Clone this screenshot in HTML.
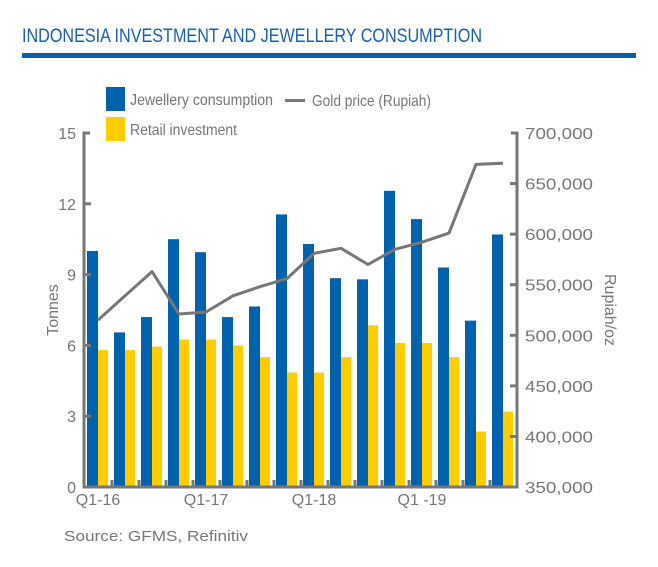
<!DOCTYPE html>
<html><head><meta charset="utf-8">
<style>
body{margin:0;background:#fff;}
svg text{font-family:"Liberation Sans",sans-serif;fill:#77767a;}
</style></head>
<body>
<svg id="c" width="658" height="562" xmlns="http://www.w3.org/2000/svg">
<text x="22" y="42" font-size="19" style="fill:#1a5fad" textLength="460" lengthAdjust="spacingAndGlyphs">INDONESIA INVESTMENT AND JEWELLERY CONSUMPTION</text>
<rect x="22" y="53" width="614" height="5" fill="#0b5fab"/>
<g>
<rect x="106" y="87" width="19" height="24" fill="#0061ad"/>
<text x="130" y="105" font-size="16" textLength="143" lengthAdjust="spacingAndGlyphs">Jewellery consumption</text>
<rect x="106" y="117" width="19" height="24" fill="#ffcc00"/>
<text x="130" y="135" font-size="16" textLength="107" lengthAdjust="spacingAndGlyphs">Retail investment</text>
<rect x="285" y="99" width="20" height="3" fill="#77767a"/>
<text x="312" y="106" font-size="16" textLength="119" lengthAdjust="spacingAndGlyphs">Gold price (Rupiah)</text>
</g>
<text x="64" y="541" font-size="15" textLength="184" lengthAdjust="spacingAndGlyphs">Source: GFMS, Refinitiv</text>
<g id="plot"></g>
</svg>
<script>
const quarters = ["Q1-16","Q2-16","Q3-16","Q4-16","Q1-17","Q2-17","Q3-17","Q4-17","Q1-18","Q2-18","Q3-18","Q4-18","Q1-19","Q2-19","Q3-19","Q4-19"];
const jewellery = [10.0,6.55,7.2,10.5,9.95,7.2,7.65,11.55,10.3,8.85,8.8,12.55,11.35,9.3,7.05,10.7];
const retail = [5.8,5.8,5.95,6.25,6.25,6.0,5.5,4.85,4.85,5.5,6.85,6.1,6.1,5.5,2.35,3.2];
const goldPrice = [515000,539000,563000,521000,523000,539000,548000,556000,581000,586000,570000,585000,592000,601000,669000,670000];
const leftTicks = [0,3,6,9,12,15];
const rightTicks = [350000,400000,450000,500000,550000,600000,650000,700000];
const xLabels = [{i:0,t:"Q1-16"},{i:4,t:"Q1-17"},{i:8,t:"Q1-18"},{i:12,t:"Q1 -19"}];

const NS="http://www.w3.org/2000/svg";
const g=document.getElementById('plot');
const X0=87, PITCH=27, BW=11, Y0=487, Y1=133, AXL=84, AXR=517;
const yL=v=>Y0-(v/15)*(Y0-Y1);
const yR=v=>Y0-((v-350000)/350000)*(Y0-Y1);
const gx=i=>X0+i*PITCH;
function mk(tag,attrs){const e=document.createElementNS(NS,tag);for(const k in attrs)e.setAttribute(k,attrs[k]);g.appendChild(e);return e;}

jewellery.forEach((v,i)=>{
  const r=mk('rect',{x:gx(i),y:yL(v),width:BW,height:Y0-yL(v),fill:'#0061ad'});
  
  
});
retail.forEach((v,i)=>{
  const r=mk('rect',{x:gx(i)+BW,y:yL(v),width:BW-1,height:Y0-yL(v),fill:'#ffcc00'});
  
  
});
const ax=mk('path',{d:`M${AXL+6} ${Y1}H${AXL}V${Y0}H${AXR}V${Y1}H${AXR-6}`,stroke:'#77767a','stroke-width':3,fill:'none'});


for(let i=1;i<16;i++){
  const t=mk('line',{x1:gx(i)-2,x2:gx(i)-2,y1:Y0,y2:Y0-7,stroke:'#77767a','stroke-width':3});
  
  
}
leftTicks.forEach(v=>{
  const y=yL(v);
  if(v>0&&v<15){const l=mk('line',{x1:AXL,x2:AXL+7,y1:y,y2:y,stroke:'#77767a','stroke-width':3});
  
  }
  const t=mk('text',{x:76,y:y+6,'font-size':16,'text-anchor':'end'});t.textContent=v;
  
  
});
rightTicks.forEach(v=>{
  const y=yR(v);
  if(v>350000&&v<700000){const l=mk('line',{x1:AXR-7,x2:AXR,y1:y,y2:y,stroke:'#77767a','stroke-width':3});
  
  }
  const t=mk('text',{x:525,y:y+6,'font-size':16,textLength:68,lengthAdjust:'spacingAndGlyphs'});t.textContent=v.toLocaleString('en-US');
  
  
});
xLabels.forEach(o=>{
  const t=mk('text',{x:gx(o.i)+BW,y:505,'font-size':16,'text-anchor':'middle'});t.textContent=o.t;
  
  
});
const lt=mk('text',{transform:'translate(58,310) rotate(-90)','font-size':16,'text-anchor':'middle'});lt.textContent='Tonnes';


const rt=mk('text',{transform:'translate(605,310) rotate(90)','font-size':16,'text-anchor':'middle'});rt.textContent='Rupiah/oz';


const pts=goldPrice.map((v,i)=>`${gx(i)+BW},${yR(v).toFixed(1)}`).join(' ');
const pl=mk('polyline',{points:pts,fill:'none',stroke:'#77767a','stroke-width':3,'stroke-linejoin':'round'});


</script>
</body></html>
